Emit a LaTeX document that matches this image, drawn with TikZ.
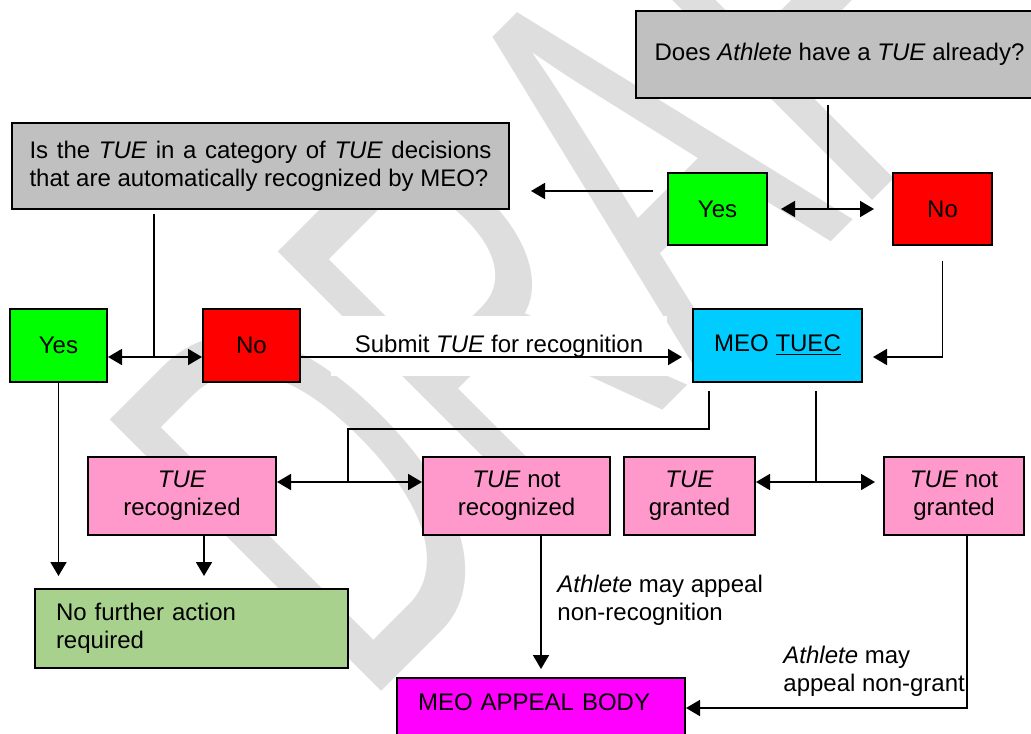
\documentclass[tikz,border=0pt]{standalone}
\usepackage{fontspec}
\usepackage{graphicx}
\setmainfont{Liberation Sans}
\usetikzlibrary{arrows.meta}

\definecolor{qgray}{HTML}{C0C0C0}
\definecolor{yesgreen}{HTML}{00FF00}
\definecolor{nored}{HTML}{FF0000}
\definecolor{tuecblue}{HTML}{00CCFF}
\definecolor{tuepink}{HTML}{FF99CC}
\definecolor{nfagreen}{HTML}{A9D18E}
\definecolor{appealpink}{HTML}{FF00FF}
\definecolor{wmgray}{HTML}{DEDEDE}

\begin{document}
\begin{tikzpicture}[x=0.5pt,y=-0.5pt,
		font=\fontsize{12pt}{14pt}\selectfont,
		box/.style={draw,line width=1pt,inner sep=0pt,align=center},
		link/.style={line width=0.9pt},
		arr/.style={link,-{Triangle[length=7pt,width=8pt]}},
		dbl/.style={link,{Triangle[length=7pt,width=8pt]}-{Triangle[length=7pt,width=8pt]}}]
		\useasboundingbox (0,0) rectangle (1031,733);
		\clip (0,0) rectangle (1031,733);
		\node[text=wmgray,font=\fontsize{279pt}{279pt}\selectfont,rotate=45,anchor=base west,inner sep=0pt] (draft) at (362,711) {\scalebox{0.59}[1]{DRAFT}};
		\node[fill=white,minimum width=168pt,minimum height=30pt,inner sep=0pt] (submit) at (499,346) {Submit \emph{TUE} for recognition};
		\node[box,fill=qgray,minimum width=203.5pt,minimum height=43.5pt] (q1) at (839.5,54.5) {Does \emph{Athlete} have a \emph{TUE} already?};
		\node[box,fill=qgray,minimum width=248.5pt,minimum height=43pt,text width=231pt,align=justify] (q2) at (260.5,166) {Is the \emph{TUE} in a category of \emph{TUE} decisions\linebreak that are automatically recognized by MEO?};
		\node[box,fill=yesgreen,minimum width=49.5pt,minimum height=36pt] (yes1) at (717.5,209) {Yes};
		\node[box,fill=nored,minimum width=49.5pt,minimum height=36pt] (no1) at (942.5,209) {No};
		\node[box,fill=yesgreen,minimum width=48.5pt,minimum height=36.5pt] (yes2) at (58.5,345.5) {Yes};
		\node[box,fill=nored,minimum width=48.5pt,minimum height=36.5pt] (no2) at (251.5,345.5) {No};
		\node[box,fill=tuecblue,minimum width=84.5pt,minimum height=36.5pt] (tuec) at (777.5,345.5) {MEO \underline{TUEC}};
		\node[box,fill=tuepink,minimum width=94pt,minimum height=39pt] (rec) at (182,496) {\emph{TUE}\\recognized};
		\node[box,fill=tuepink,minimum width=93.5pt,minimum height=39pt] (notrec) at (516.5,496) {\emph{TUE} not\\recognized};
		\node[box,fill=tuepink,minimum width=65.5pt,minimum height=39pt] (granted) at (689.5,496) {\emph{TUE}\\granted};
		\node[box,fill=tuepink,minimum width=70pt,minimum height=39pt] (notgranted) at (954,496) {\emph{TUE} not\\granted};
		\node[box,fill=nfagreen,minimum width=156.5pt,minimum height=39.5pt,text width=135.5pt,align=left] (nofurther) at (191.5,628.5) {No further action\\required};
		\node[box,fill=appealpink,anchor=north west,text width=123pt,align=left,inner xsep=10.5pt,inner ysep=8pt,text depth=30pt] (appeal) at (396,677) {MEO APPEAL BODY};
		\node[anchor=north west,inner sep=0pt,align=left] (appealrec) at (557,575) {\emph{Athlete} may appeal\\non-recognition};
		\node[anchor=north west,inner sep=0pt,align=left] (appealgrant) at (783,646) {\emph{Athlete} may\\appeal non-grant};

		\coordinate (j1) at (828,209);
		\coordinate (j2) at (154,357);
		\coordinate (j3) at (709,429);
		\coordinate (j4) at (348,482);
		\coordinate (j5) at (816,482);

		\draw[link,shorten <=3pt] (q1.south -| j1) -- (j1);
		\draw[dbl,shorten <=6.5pt,shorten >=9pt] (yes1.east |- j1) -- (no1.west |- j1);
		\draw[arr,shorten <=7pt,shorten >=10.5pt] ([yshift=9pt]yes1.west) -- ([yshift=9pt]yes1.west -| q2.east);
		\draw[link,shorten <=2pt] (q2.south -| j2) -- (j2);
		\draw[dbl] (yes2.east |- j2) -- (no2.west |- j2);
		\draw[arr,shorten >=5pt] (no2.east |- j2) -- (tuec.west |- j2);
		\draw[arr,shorten <=7.5pt,shorten >=5pt] (no1.south) |- (tuec.east |- j2);
		\draw[link,shorten <=4pt] (tuec.south -| j3) -- (j3) -| (j4);
		\draw[dbl] (rec.east |- j4) -- (notrec.west |- j4);
		\draw[link,shorten <=4pt] (tuec.south -| j5) -- (j5);
		\draw[dbl,shorten >=4pt] (granted.east |- j5) -- (notgranted.west |- j5);
		\draw[arr,shorten >=6pt] (yes2.south) -- (yes2.south |- nofurther.north);
		\draw[arr,shorten >=6pt] ([xshift=11pt]rec.south) -- ([xshift=11pt]rec.south |- nofurther.north);
		\draw[arr,shorten >=4pt] (notrec.south -| appeal.north) -- (appeal.north);
		\draw[arr] ([xshift=6.5pt]notgranted.south) |- ([yshift=-15.5pt]appeal.north east);
	\end{tikzpicture}
\end{document}
